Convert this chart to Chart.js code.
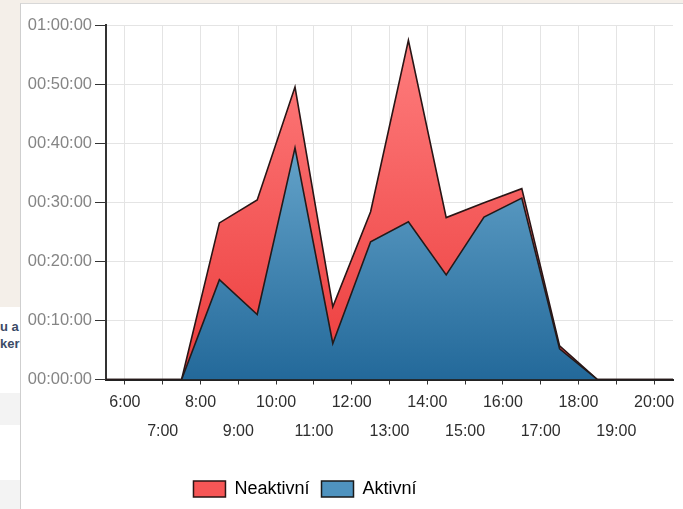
<!DOCTYPE html>
<html>
<head>
<meta charset="utf-8">
<script src="https://cdn.jsdelivr.net/npm/chart.js@4.4.0/dist/chart.umd.min.js"></script>
<style>
  html, body { margin:0; padding:0; width:683px; height:509px; overflow:hidden; background:#f4efe9; }
  #leftWhite { position:absolute; left:0; top:307px; width:20px; height:202px; background:#ffffff; }
  .band { position:absolute; left:0; width:20px; background:#f3f3f3; }
  #snip { position:absolute; left:0; top:318px; width:20px; overflow:hidden; font:bold 13px "Liberation Sans", Arial, sans-serif; color:#3b4a66; line-height:17px; white-space:nowrap; }
  #panel { position:absolute; left:20px; top:3px; width:663px; height:506px; background:#fff; border-left:1px solid #cfcfcf; border-top:1px solid #d8d8d8; box-sizing:border-box; }
  #wrap { position:absolute; left:-63px; top:0; width:746px; height:508px; }
</style>
</head>
<body>
<div id="leftWhite"></div>
<div class="band" style="top:393px;height:32px"></div>
<div class="band" style="top:480px;height:29px"></div>
<div id="snip">u a<br>ker</div>
<div id="panel"></div>
<div id="wrap"><canvas id="c" width="746" height="508"></canvas></div>
<script>
// Data (minutes), sampled at half hours
const times = ['5:30','6:30','7:30','8:30','9:30','10:30','11:30','12:30','13:30','14:30','15:30','16:30','17:30','18:30','19:30','20:30'];
const aktivni   = [0, 0, 0, 16.9, 11.0, 39.2, 6.1, 23.3, 26.7, 17.7, 27.5, 30.7, 5.2, 0, 0, 0];
const neaktivni = [0, 0, 0,  9.6, 19.4, 10.3, 6.2,  5.1, 30.7,  9.7,  2.4,  1.6, 0.5, 0, 0, 0];
const hourTicks = ['6:00','7:00','8:00','9:00','10:00','11:00','12:00','13:00','14:00','15:00','16:00','17:00','18:00','19:00','20:00'];
const yTicks = ['00:00:00','00:10:00','00:20:00','00:30:00','00:40:00','00:50:00','01:00:00'];

const toHours = s => { const [h, m] = s.split(':').map(Number); return h + m / 60; };
const xs = times.map(toHours);
const hourVals = hourTicks.map(toHours);

function grad(ctx, top, bottom) {
  const chart = ctx.chart;
  const area = chart.chartArea;
  if (!area) return bottom;
  const g = chart.ctx.createLinearGradient(0, area.top, 0, area.bottom);
  g.addColorStop(0, top);
  g.addColorStop(1, bottom);
  return g;
}

const FONT = '"Liberation Sans", Arial, sans-serif';

new Chart(document.getElementById('c'), {
  type: 'line',
  data: {
    datasets: [
      {
        label: 'Aktivní',
        data: xs.map((x, i) => ({ x, y: aktivni[i] })),
        fill: 'origin',
        backgroundColor: ctx => grad(ctx, '#86c1e2', '#23699a'),
        borderColor: '#231a1a',
        borderWidth: 1.6,
        pointRadius: 0,
        tension: 0
      },
      {
        label: 'Neaktivní',
        data: xs.map((x, i) => ({ x, y: neaktivni[i] })),
        fill: '-1',
        backgroundColor: ctx => grad(ctx, '#ff8080', '#ec3c3c'),
        borderColor: '#2a1515',
        borderWidth: 1.6,
        pointRadius: 0,
        tension: 0
      }
    ]
  },
  options: {
    responsive: false,
    animation: false,
    layout: { padding: { top: 25, right: 10, left: 0, bottom: 0 } },
    plugins: {
      tooltip: { enabled: false },
      legend: {
        position: 'bottom',
        reverse: true,
        labels: {
          boxWidth: 32,
          boxHeight: 16,
          padding: 12,
          color: '#2b2b3a',
          font: { family: FONT, size: 18 },
          generateLabels: chart => [
            { text: 'Aktivní', fillStyle: '#4f93bf', strokeStyle: '#1a1a1a', lineWidth: 1.5, datasetIndex: 0, hidden: false },
            { text: 'Neaktivní', fillStyle: '#f75656', strokeStyle: '#2a1515', lineWidth: 1.5, datasetIndex: 1, hidden: false }
          ]
        }
      }
    },
    scales: {
      x: {
        type: 'linear',
        min: toHours(times[0]),
        max: toHours(times[times.length - 1]),
        afterBuildTicks: axis => { axis.ticks = hourVals.map(v => ({ value: v })); },
        afterFit: s => { s.height = 88.5; },
        ticks: {
          autoSkip: false,
          maxRotation: 0,
          padding: 4,
          color: '#2e2e2e',
          font: { family: FONT, size: 16, lineHeight: 1.81 },
          callback: (v, i) => (i % 2 === 0 ? [hourTicks[i], ''] : ['', hourTicks[i]])
        },
        grid: { color: '#e4e4e4', tickColor: '#333', tickLength: 5, lineWidth: 1 },
        border: { color: '#222', width: 2 }
      },
      y: {
        stacked: true,
        min: 0,
        max: 60,
        afterFit: s => { s.width = 169; },
        ticks: {
          stepSize: 10,
          padding: 3,
          color: '#858585',
          font: { family: FONT, size: 16.5 },
          callback: (v) => yTicks[Math.round(v / 10)]
        },
        grid: { color: '#e4e4e4', tickColor: '#333', tickLength: 11, lineWidth: 1 },
        border: { color: '#333', width: 2 }
      }
    }
  }
});
</script>
</body>
</html>
